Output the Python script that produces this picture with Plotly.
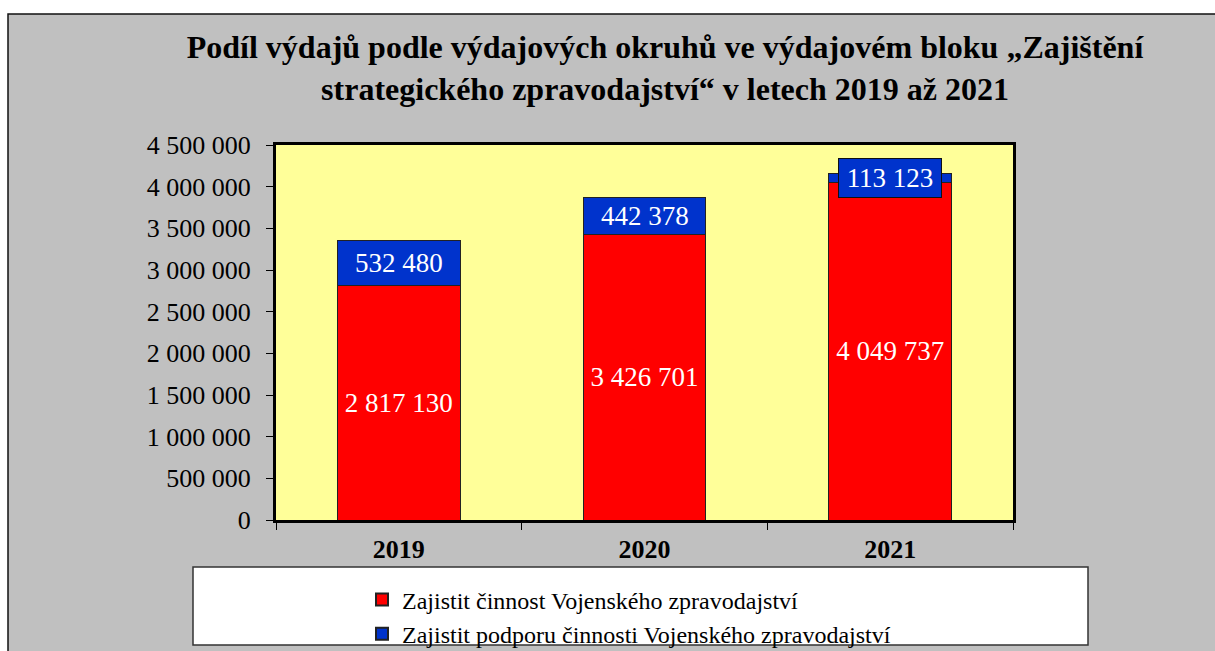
import plotly.graph_objects as go

years = ["2019", "2020", "2021"]
cinnost = [2817130, 3426701, 4049737]
podpora = [532480, 442378, 113123]
series_names = ["Zajistit činnost Vojenského zpravodajství",
                "Zajistit podporu činnosti Vojenského zpravodajství"]
title_text = ("<b>Podíl výdajů podle výdajových okruhů ve výdajovém bloku „Zajištění<br>"
              "strategického zpravodajství“ v letech 2019 až 2021</b>")

RED = "#FF0000"
BLUE = "#0033CC"
FONT = "Liberation Serif"


def fmt(v):
    return f"{v:,}".replace(",", " ")


fig = go.Figure()
fig.add_trace(go.Bar(
    x=years, y=cinnost, name=series_names[0],
    marker=dict(color=RED, line=dict(color="#222222", width=1)),
    width=0.5,
    text=[fmt(v) for v in cinnost], textposition="inside",
    insidetextanchor="middle", constraintext="none",
    textfont=dict(family=FONT, size=27, color="white"),
))
fig.add_trace(go.Bar(
    x=years, y=podpora, name=series_names[1],
    marker=dict(color=BLUE, line=dict(color="#222222", width=1)),
    width=0.5,
))

# blue segment labels (x given as category index)
for i, (yr, a, b) in enumerate(zip(years, cinnost, podpora)):
    small = i == 2
    fig.add_annotation(
        x=i, y=a + b / 2, xref="x", yref="y", text=fmt(b), showarrow=False,
        font=dict(family=FONT, size=27, color="white"),
        bgcolor=BLUE if small else "rgba(0,0,0,0)",
        bordercolor="#111111" if small else "rgba(0,0,0,0)",
        borderwidth=1 if small else 0,
        width=100 if small else None, height=36 if small else None,
        borderpad=1,
    )

L, R, T, B = 276, 202, 145, 131
W, H = 1215, 651
pw = W - L - R
ph = H - T - B


def px_x(p):
    return (p - L) / pw


def px_y(p):
    return (H - B - p) / ph


shapes = [
    dict(type="rect", xref="paper", yref="paper", layer="below",
         x0=px_x(8), x1=px_x(1225), y0=px_y(14), y1=px_y(665),
         fillcolor="#C0C0C0", line=dict(color="#111111", width=1.5)),
    dict(type="rect", xref="x domain", yref="y domain", layer="below",
         x0=0, x1=1, y0=0, y1=1, fillcolor="#FFFF99", line=dict(width=0)),
    dict(type="rect", xref="paper", yref="paper", layer="below",
         x0=px_x(193), x1=px_x(1088), y0=px_y(567), y1=px_y(645),
         fillcolor="white", line=dict(color="#333333", width=1.5)),
]

fig.update_layout(
    width=W, height=H,
    margin=dict(l=L, r=R, t=T, b=B, autoexpand=False),
    paper_bgcolor="white", plot_bgcolor="rgba(0,0,0,0)",
    barmode="stack", bargap=0.5,
    separators=", ",
    shapes=shapes,
    title=dict(text=title_text, x=665 / W, xref="container", xanchor="center",
               y=1 - 58 / H, yref="container", yanchor="top",
               font=dict(family=FONT, size=32, color="black")),
    showlegend=True,
    legend=dict(x=px_x(362), y=px_y(617), xanchor="left", yanchor="middle",
                traceorder="normal", bgcolor="rgba(0,0,0,0)",
                font=dict(family=FONT, size=24, color="black"),
                itemsizing="constant", tracegroupgap=0),
    font=dict(family=FONT, color="black"),
)
fig.update_xaxes(
    type="category", range=[-0.5, 2.5], showline=True, mirror=True,
    linecolor="black", linewidth=3,
    ticks="outside", tickson="boundaries", ticklen=7, tickcolor="black",
    ticklabelstandoff=4,
    tickfont=dict(family=FONT, size=26, color="black"),
    tickprefix="<b>", ticksuffix="</b>", showgrid=False,
)
fig.update_yaxes(
    range=[0, 4500000], dtick=500000, tickformat=",d",
    showline=True, mirror=True, linecolor="black", linewidth=3,
    ticks="outside", ticklen=7, tickcolor="black", ticklabelstandoff=10,
    tickfont=dict(family=FONT, size=26, color="black"),
    showgrid=False, zeroline=False,
)

fig.write_html("out.html", config={"displayModeBar": False},
               post_script="document.body.style.margin='0';document.body.style.overflow='hidden';")
